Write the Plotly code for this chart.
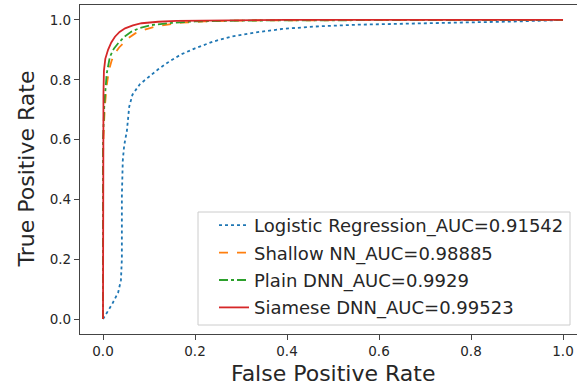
import plotly.graph_objects as go

# ---- data ----
lr_fpr = [0, 0.008, 0.02, 0.033, 0.039, 0.041, 0.041, 0.043, 0.046, 0.052, 0.057, 0.064, 0.08, 0.1, 0.12, 0.145, 0.17, 0.2, 0.24, 0.28, 0.33, 0.39, 0.46, 0.55, 0.65, 0.8, 0.9, 1.0]
lr_tpr = [0, 0.019, 0.05, 0.089, 0.13, 0.2, 0.41, 0.53, 0.58, 0.63, 0.71, 0.75, 0.785, 0.81, 0.835, 0.862, 0.885, 0.905, 0.928, 0.945, 0.958, 0.97, 0.978, 0.984, 0.988, 0.992, 0.995, 1.0]

snn_fpr = [0, 0.0, 0.002, 0.004, 0.008, 0.013, 0.019, 0.026, 0.035, 0.044, 0.056, 0.07, 0.09, 0.113, 0.14, 0.171, 0.22, 0.3, 0.45, 1.0]
snn_tpr = [0, 0.55, 0.65, 0.71, 0.78, 0.833, 0.865, 0.889, 0.908, 0.922, 0.94, 0.955, 0.967, 0.978, 0.985, 0.991, 0.995, 0.998, 0.999, 1.0]

dnn_fpr = [0, 0.0, 0.003, 0.008, 0.015, 0.024, 0.033, 0.046, 0.062, 0.08, 0.106, 0.15, 0.2, 0.3, 0.5, 1.0]
dnn_tpr = [0, 0.6, 0.72, 0.82, 0.877, 0.905, 0.922, 0.943, 0.961, 0.973, 0.983, 0.99, 0.995, 0.998, 0.999, 1.0]

sia_fpr = [0, 0, 0.001, 0.002, 0.005, 0.011, 0.018, 0.026, 0.036, 0.048, 0.065, 0.084, 0.12, 0.16, 0.25, 0.4, 1.0]
sia_tpr = [0, 0.66, 0.75, 0.83, 0.87, 0.9, 0.925, 0.944, 0.96, 0.972, 0.982, 0.989, 0.994, 0.997, 0.999, 1.0, 1.0]

names = ["Logistic Regression_AUC=0.91542", "Shallow NN_AUC=0.98885",
         "Plain DNN_AUC=0.9929", "Siamese DNN_AUC=0.99523"]
tick_vals = [0.0, 0.2, 0.4, 0.6, 0.8, 1.0]
tick_text = ["0.0", "0.2", "0.4", "0.6", "0.8", "1.0"]

colors = ["#1f77b4", "#ff7f0e", "#2ca02c", "#d62728"]
dashes = ["dot", "dash", "dashdot", "solid"]
series = [(lr_fpr, lr_tpr), (snn_fpr, snn_tpr), (dnn_fpr, dnn_tpr), (sia_fpr, sia_tpr)]

FONT = "DejaVu Sans"
TXT = "#262626"

W, H = 577, 386
ML, MR, MT, MB = 80, 0, 5, 52
PW, PH = W - ML - MR, H - MT - MB


def px_x(p):
    return (p - ML) / PW


def px_y(p):
    return (H - MB - p) / PH


fig = go.Figure()
for i, ((x, y), name) in enumerate(zip(series, names)):
    fig.add_trace(go.Scatter(
        x=x, y=y, mode="lines", name=name, legendgroup=f"g{i}",
        line=dict(color=colors[i], width=1.8, dash=dashes[i]),
    ))

axis_common = dict(
    showgrid=False, zeroline=False, showline=True, linecolor="#444444", linewidth=1.2,
    ticks="outside", ticklen=5, tickcolor="#444444", tickwidth=1,
    tickfont=dict(family=FONT, size=13.5, color=TXT),
    tickvals=tick_vals, ticktext=tick_text, automargin=False,
)

fig.update_layout(
    width=W, height=H,
    margin=dict(l=ML, r=MR, t=MT, b=MB),
    paper_bgcolor="white", plot_bgcolor="white",
    xaxis=dict(range=[-0.05, 1.0304], mirror=True, **axis_common),
    yaxis=dict(range=[-0.05, 1.05], **axis_common),
    legend=dict(
        x=px_x(214), y=px_y(326), xanchor="left", yanchor="bottom",
        font=dict(family=FONT, size=18, color=TXT),
        borderwidth=0, bgcolor="rgba(0,0,0,0)",
        traceorder="grouped", tracegroupgap=1,
    ),
    shapes=[
        dict(type="rect", xref="paper", yref="paper",
             x0=px_x(198), x1=px_x(570), y0=px_y(325), y1=px_y(212),
             line=dict(color="#cccccc", width=1), fillcolor="rgba(255,255,255,0.8)",
             layer="above"),
    ],
    annotations=[
        dict(text="False Positive Rate", xref="paper", yref="paper",
             x=px_x(333), y=px_y(373.5), xanchor="center", yanchor="middle", showarrow=False,
             font=dict(family=FONT, size=22, color=TXT)),
        dict(text="True Positive Rate", xref="paper", yref="paper",
             x=px_x(26), y=0.5, xanchor="center", yanchor="middle", textangle=-90, showarrow=False,
             font=dict(family=FONT, size=22, color=TXT)),
    ],
    showlegend=True,
)

fig.write_html("out.html", config={"displayModeBar": False},
               post_script="document.body.style.margin='0';document.body.style.overflow='hidden';")
